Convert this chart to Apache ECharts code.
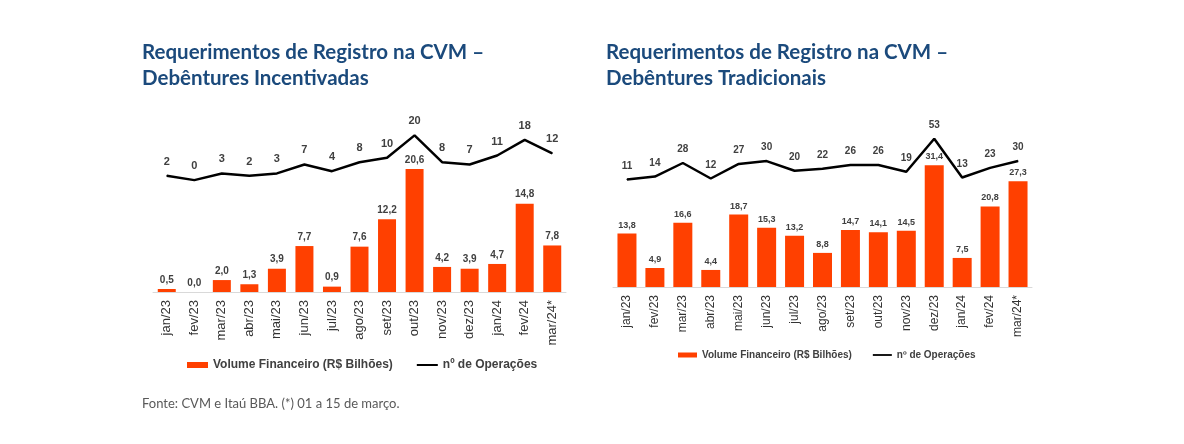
<!DOCTYPE html>
<html><head><meta charset="utf-8">
<script src="https://cdn.jsdelivr.net/npm/echarts@6/dist/echarts.min.js"></script>
<style>html,body{margin:0;padding:0;background:#fff}#c{width:1184px;height:444px}</style>
</head><body><div id="c"></div>
<script>
const categories = ['jan/23','fev/23','mar/23','abr/23','mai/23','jun/23','jul/23','ago/23','set/23','out/23','nov/23','dez/23','jan/24','fev/24','mar/24*'];
const incentVolume = [0.5, 0.0, 2.0, 1.3, 3.9, 7.7, 0.9, 7.6, 12.2, 20.6, 4.2, 3.9, 4.7, 14.8, 7.8];
const incentOps = [2, 0, 3, 2, 3, 7, 4, 8, 10, 20, 8, 7, 11, 18, 12];
const tradVolume = [13.8, 4.9, 16.6, 4.4, 18.7, 15.3, 13.2, 8.8, 14.7, 14.1, 14.5, 31.4, 7.5, 20.8, 27.3];
const tradOps = [11, 14, 28, 12, 27, 30, 20, 22, 26, 26, 19, 53, 13, 23, 30];
const titleLeft = 'Requerimentos de Registro na CVM –\nDebêntures Incentivadas';
const titleRight = 'Requerimentos de Registro na CVM –\nDebêntures Tradicionais';
const footnote = 'Fonte: CVM e Itaú BBA. (*) 01 a 15 de março.';
const volumeName = 'Volume Financeiro (R$ Bilhões)';
const opsName = 'nº de Operações';

const FONT = "'Liberation Sans', Arial, sans-serif";
const BAR = '#ff4000';
const TXT = '#404040';
const fmt = p => p.value.toFixed(1).replace('.', ',');

const chart = echarts.init(document.getElementById('c'), null, {renderer: 'canvas'});

function titleOpt(text, left, top) {
  return {text, left, top, padding: 0,
    textStyle: {fontFamily: 'Lato', fontWeight: 'bold', fontSize: 20.5, lineHeight: 26, color: '#1b4a7c'}};
}
function xAxisOpt(gi, fs) {
  return {type: 'category', gridIndex: gi, data: categories,
    axisTick: {show: false},
    axisLine: {lineStyle: {color: '#d9d9d9', width: 1}},
    axisLabel: {rotate: 90, interval: 0, fontSize: fs, color: '#333', fontFamily: FONT, margin: 8}};
}
function yAxisOpt(gi, min, max) {
  return {type: 'value', gridIndex: gi, min, max, show: false, splitLine: {show: false}};
}
function legendOpt(left, top, fs, w, h, gap) {
  return {left, top, padding: 0, itemWidth: w, itemHeight: h, itemGap: gap,
    data: [{name: volumeName, icon: 'rect'}, {name: opsName, icon: 'path://M0,0H21V2H0Z'}],
    textStyle: {fontFamily: FONT, fontSize: fs, fontWeight: 'bold', color: TXT}};
}
function barSeries(xi, yi, data, bw, fs) {
  return {name: volumeName, type: 'bar', xAxisIndex: xi, yAxisIndex: yi, data, barWidth: bw,
    itemStyle: {color: BAR},
    label: {show: true, position: 'top', distance: 4, formatter: fmt, fontFamily: FONT, fontSize: fs, fontWeight: 'bold', color: TXT}};
}
function lineSeries(xi, yi, data, fs) {
  return {name: opsName, type: 'line', xAxisIndex: xi, yAxisIndex: yi, data,
    symbol: 'circle', symbolSize: 1, showSymbol: true, clip: false, z: 5,
    lineStyle: {color: '#000', width: 2.5}, itemStyle: {color: '#000'},
    label: {show: true, position: 'top', distance: 8, fontFamily: FONT, fontSize: fs, fontWeight: 'bold', color: TXT}};
}

chart.setOption({
  animation: false,
  backgroundColor: '#fff',
  title: [
    titleOpt(titleLeft, 142, 39),
    titleOpt(titleRight, 606, 39),
    {text: footnote, left: 142, top: 397, padding: 0,
      textStyle: {fontFamily: 'Lato', fontWeight: 'normal', fontSize: 13, color: '#595959'}}
  ],
  legend: [
    legendOpt(187, 359, 12, 21, 6, 24),
    legendOpt(678, 350, 10, 19, 5, 21)
  ],
  grid: [
    {left: 153, top: 113, width: 413, height: 179},
    {left: 613, top: 132, width: 419, height: 155}
  ],
  xAxis: [xAxisOpt(0, 13), xAxisOpt(1, 12)],
  yAxis: [yAxisOpt(0, 0, 30), yAxisOpt(0, -50, 30), yAxisOpt(1, 0, 40), yAxisOpt(1, -100, 60)],
  series: [
    barSeries(0, 0, incentVolume, 18, 10),
    lineSeries(0, 1, incentOps, 11),
    barSeries(1, 2, tradVolume, 19, 9),
    lineSeries(1, 3, tradOps, 10)
  ]
});
</script></body></html>
